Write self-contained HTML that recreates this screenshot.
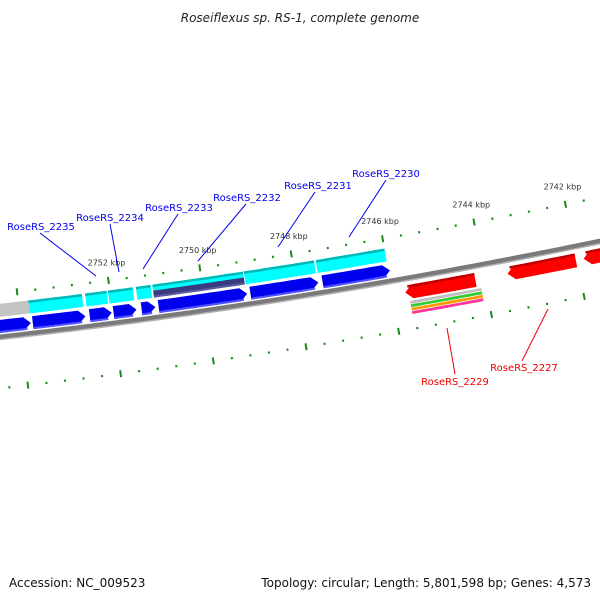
<!DOCTYPE html>
<html><head><meta charset="utf-8"><style>
html,body{margin:0;padding:0;background:#fff;}
svg{display:block;font-family:"DejaVu Sans","Liberation Sans",sans-serif;}
</style></head><body>
<svg id="map" width="600" height="600" viewBox="0 0 600 600" xmlns="http://www.w3.org/2000/svg">
<text x="300" y="22" text-anchor="middle" font-size="12" font-style="italic" fill="#222">Roseiflexus sp. RS-1, complete genome</text>
<text x="9" y="587" font-size="12" fill="#111">Accession: NC_009523</text>
<text x="591" y="587" text-anchor="end" font-size="12" fill="#111">Topology: circular; Length: 5,801,598 bp; Genes: 4,573</text>
<g id="layer"></g>
</svg>
<script>
// data
const majorTicks = [2754, 2752, 2750, 2748, 2746, 2744, 2742];
const tickLabels = ["2754 kbp","2752 kbp","2750 kbp","2748 kbp","2746 kbp","2744 kbp","2742 kbp"];
const fwdStart = [2754.9, 2753.74, 2752.50, 2751.98, 2751.37, 2751.00, 2749.00, 2747.43];
const fwdEnd   = [2753.78, 2752.59, 2752.02, 2751.48, 2751.07, 2749.07, 2747.52, 2745.96];
const cdsStart = [2753.78, 2752.54, 2752.04, 2751.43, 2751.07, 2749.07, 2747.50];
const cdsEnd   = [2752.61, 2752.07, 2751.50, 2751.11, 2749.09, 2747.54, 2746.00];
const grayStart = [2754.9], grayEnd = [2753.78];
const navyStart = [2751.07], navyEnd = [2749.09];
const revStart = [2745.72, 2743.50, 2741.85];
const revEnd   = [2744.20, 2742.02, 2740.9];
const stripStart = [2745.65], stripEnd = [2744.11];
const stripColors = ["#c0c0c0","#33cc33","#ff9900","#ff3399"];
const geneNames = ["RoseRS_2235","RoseRS_2234","RoseRS_2233","RoseRS_2232","RoseRS_2231","RoseRS_2230","RoseRS_2229","RoseRS_2227"];

const NS="http://www.w3.org/2000/svg";
const layer=document.getElementById('layer');
const A=0.113,B=7.8e-5;
function base(x){return 337-A*x-B*x*x;}
function slope(x){return -A-2*B*x;}
function kx(k){return 114+(2752-k)*46;}
function pt(x,d){const s=slope(x),n=Math.sqrt(1+s*s);return [x-s*d/n, base(x)+d/n];}
function mk(tag,attrs){const e=document.createElementNS(NS,tag);for(const k in attrs)e.setAttribute(k,attrs[k]);layer.appendChild(e);return e;}
function band(x1,x2,d1,d2,arrow){ // arrow: 0 none, 1 tip at x2, -1 tip at x1
  const pts=[],bot=[],head=7,mid=(d1+d2)/2;
  let a=x1,b=x2;
  if(arrow===1)b=x2-head; if(arrow===-1)a=x1+head;
  for(let i=0;i<=12;i++){const x=a+(b-a)*i/12;pts.push(pt(x,d1));bot.push(pt(x,d2));}
  let poly=[];
  if(arrow===-1)poly.push(pt(x1,mid));
  poly=poly.concat(pts);
  if(arrow===1)poly.push(pt(x2,mid));
  poly=poly.concat(bot.reverse());
  return poly.map(p=>p[0].toFixed(1)+','+p[1].toFixed(1)).join(' ');
}
// ticks
function drawTicks(d,dir){
  for(let k=2755.2;k>=2740.4;k-=0.4){
    const kk=Math.round(k*10)/10;
    const major=Math.abs(kk/2-Math.round(kk/2))<0.01;
    const x=kx(kk),len=major?7:2.2;
    const p1=pt(x,d-len/2),p2=pt(x,d+len/2);
    const l=mk('line',{x1:p1[0],y1:p1[1],x2:p2[0],y2:p2[1],stroke:'#1a8a1a','stroke-width':2});
    
    
  }
}
drawTicks(-43,-1);drawTicks(51,1);
majorTicks.forEach((k,i)=>{
  const p=pt(kx(k),-58);
  if(p[0]<20||p[0]>590)return;
  const t=mk('text',{x:p[0],y:p[1],'font-size':8,'text-anchor':'middle',fill:'#333'});
  t.textContent=tickLabels[i];
  
  
});
// backbone
(function(){
  let dd='';for(let x=-10;x<=610;x+=10){const p=pt(x,0);dd+=(x===-10?'M':'L')+p[0].toFixed(1)+','+p[1].toFixed(1);}
  const b=mk('path',{d:dd,stroke:'#7a7a7a','stroke-width':5,fill:'none'});
  
  
  let d2='';for(let x=-10;x<=610;x+=10){const p=pt(x,2.5);d2+=(x===-10?'M':'L')+p[0].toFixed(1)+','+p[1].toFixed(1);}
  const b2=mk('path',{d:d2,stroke:'#b0b0b0','stroke-width':1.5,fill:'none'});
  
  
})();
function drawSet(starts,ends,d1,d2,arrow,fill,edge,edgeTop,name){
  starts.forEach((s,i)=>{
    const x1=kx(s),x2=kx(ends[i]);
    const p=mk('polygon',{points:band(x1,x2,d1,d2,arrow),fill:fill});
    
    
    if(edge){
      const e=edgeTop?band(x1+(arrow===-1?3:0),x2-(arrow===1?3:0),d1,d1+2.5,0):band(x1,x2-(arrow===1?4:0),d2-2,d2,0);
      const q=mk('polygon',{points:e,fill:edge});
      
      
    }
  });
}
drawSet(grayStart,grayEnd,-33,-20,0,'#c4c4c4',null,false,'gene-gray');
drawSet(cdsStart,cdsEnd,-33,-20,0,'#00ffff','#00b8b8',true,'cds-feature');
drawSet(navyStart,navyEnd,-27,-20,0,'#3a3a80','#5a5aa0',false,'navy-feature');
drawSet(fwdStart,fwdEnd,-17,-4,1,'#0000ee','#5050ff',false,'forward-gene');
drawSet(revStart,revEnd,7,21,-1,'#ff0000','#c00000',true,'reverse-gene');
stripColors.forEach((c,i)=>{
  drawSet(stripStart,stripEnd,23+i*3.5,25.8+i*3.5,0,c,null,false,'feature-strip');
});
// labels
const labelPos=[[41,230,40,233,96,276],[110,221,110,224,119,272],[179,211,178,214,143,269],[247,201,246,204,198,261],[318,189,315,192,278,247],[386,177,386,180,349,237],[455,385,455,374,447,328],[524,371,522,361,548,309]];
geneNames.forEach((n,i)=>{
  const L=labelPos[i],col=i<6?'#0000ee':'#ee0000';
  const ln=mk('line',{x1:L[2],y1:L[3],x2:L[4],y2:L[5],stroke:col,'stroke-width':1});
  
  
  const t=mk('text',{x:L[0],y:L[1],'font-size':10,'text-anchor':'middle',fill:col});
  t.textContent=n;
  
  
});
</script>
</body></html>
